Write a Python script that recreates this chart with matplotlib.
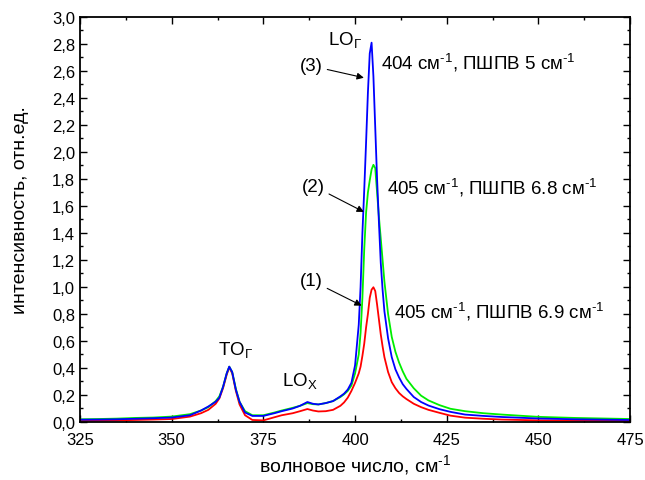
import matplotlib
matplotlib.use("Agg")
import matplotlib.pyplot as plt
from matplotlib.ticker import MultipleLocator, FuncFormatter

plt.rcParams['font.family'] = ['Liberation Sans', 'DejaVu Sans']
plt.rcParams['mathtext.fontset'] = 'custom'
plt.rcParams['mathtext.rm'] = 'Liberation Sans'
plt.rcParams['mathtext.it'] = 'Liberation Sans'

wavenumber = [325, 330, 335, 340, 345, 350, 355, 358, 360, 362,
              363, 364, 365, 365.7, 366.5, 367.5, 368.5, 370, 372, 375,
              378, 380, 383, 385, 387, 388.5, 390, 392, 394, 396,
              397, 398, 399, 400, 401, 401.5, 402, 402.5, 403, 403.5,
              404, 404.5, 405, 405.5, 406, 406.5, 407, 407.5, 408, 409,
              410, 411, 412, 413, 414, 416, 418, 420, 423, 426,
              430, 435, 440, 450, 460, 475]

spectrum_1 = [0.008, 0.01, 0.012, 0.015, 0.018, 0.022, 0.04, 0.065, 0.09, 0.135,
              0.175, 0.25, 0.35, 0.405, 0.36, 0.23, 0.13, 0.05, 0.015, 0.012,
              0.035, 0.05, 0.065, 0.08, 0.096, 0.085, 0.078, 0.08, 0.09, 0.12,
              0.145, 0.18, 0.23, 0.29, 0.36, 0.41, 0.49, 0.58, 0.70, 0.80,
              0.92, 0.98, 0.998, 0.97, 0.87, 0.76, 0.65, 0.56, 0.48, 0.37,
              0.295, 0.25, 0.215, 0.19, 0.17, 0.135, 0.11, 0.09, 0.068, 0.047,
              0.032, 0.024, 0.018, 0.012, 0.01, 0.008]

spectrum_2 = [0.02, 0.022, 0.025, 0.03, 0.033, 0.04, 0.058, 0.085, 0.11, 0.155,
              0.19, 0.26, 0.36, 0.41, 0.37, 0.245, 0.15, 0.08, 0.05, 0.05,
              0.07, 0.085, 0.105, 0.12, 0.14, 0.132, 0.13, 0.14, 0.155, 0.185,
              0.205, 0.23, 0.27, 0.36, 0.50, 0.66, 0.92, 1.28, 1.55, 1.70,
              1.79, 1.87, 1.905, 1.88, 1.70, 1.52, 1.36, 1.20, 1.04, 0.80,
              0.63, 0.52, 0.44, 0.375, 0.32, 0.25, 0.195, 0.16, 0.125, 0.098,
              0.08, 0.065, 0.055, 0.038, 0.03, 0.022]

spectrum_3 = [0.017, 0.018, 0.02, 0.024, 0.028, 0.033, 0.05, 0.085, 0.115, 0.15,
              0.18, 0.26, 0.36, 0.41, 0.37, 0.24, 0.15, 0.07, 0.045, 0.045,
              0.065, 0.08, 0.1, 0.12, 0.148, 0.135, 0.13, 0.14, 0.155, 0.19,
              0.21, 0.24, 0.29, 0.42, 0.72, 1.0, 1.40, 1.72, 2.07, 2.44,
              2.73, 2.81, 2.56, 2.18, 1.80, 1.48, 1.18, 0.98, 0.82, 0.62,
              0.48, 0.39, 0.33, 0.28, 0.245, 0.185, 0.148, 0.122, 0.095, 0.075,
              0.055, 0.045, 0.037, 0.026, 0.02, 0.015]

fig = plt.figure(figsize=(6.45, 4.81), dpi=100)
ax = fig.add_axes([0.124, 0.1206, 0.853, 0.842])

ax.plot(wavenumber, spectrum_1, color='#ff0000', lw=1.3)
ax.plot(wavenumber, spectrum_2, color='#00ee00', lw=1.3)
ax.plot(wavenumber, spectrum_3, color='#0000ff', lw=1.3)

ax.set_xlim(325, 475)
ax.set_ylim(0, 3.0)
ax.xaxis.set_major_locator(MultipleLocator(25))
ax.xaxis.set_minor_locator(MultipleLocator(12.5))
ax.yaxis.set_major_locator(MultipleLocator(0.2))
ax.yaxis.set_minor_locator(MultipleLocator(0.1))
ax.yaxis.set_major_formatter(FuncFormatter(lambda v, p: f"{v:.1f}".replace('.', ',')))
ax.tick_params(which='both', direction='in', top=True, right=True, labelsize=12, width=1.0)
ax.tick_params(which='major', length=5)
ax.tick_params(which='minor', length=2.5)
ax.tick_params(axis='x', pad=7)
for s in ax.spines.values():
    s.set_linewidth(1.3)

sup = '$^{\\text{-1}}$'
ax.set_xlabel('волновое число, см' + sup, fontsize=14, labelpad=4)
ax.set_ylabel('интенсивность, отн.ед.', fontsize=14, labelpad=12)
ax.yaxis.set_label_coords(-0.092, 0.525)

fs = 13.5
ax.text(397.3, 2.84, 'LO$_{\\mathrm{Γ}}$', fontsize=fs, ha='center', va='center')
ax.text(407.0, 2.67, '404 см' + sup + ', ПШПВ 5 см' + sup, fontsize=fs, ha='left', va='center')
ax.text(408.8, 1.74, '405 см' + sup + ', ПШПВ 6.8 см' + sup, fontsize=fs, ha='left', va='center')
ax.text(410.7, 0.82, '405 см' + sup + ', ПШПВ 6.9 см' + sup, fontsize=fs, ha='left', va='center')
ax.text(367.3, 0.54, 'TO$_{\\mathrm{Γ}}$', fontsize=fs, ha='center', va='center')
ax.text(384.9, 0.31, 'LO$_{\\mathrm{X}}$', fontsize=fs, ha='center', va='center')

arrow = dict(arrowstyle='-|>', color='k', lw=0.8, mutation_scale=10, shrinkA=1, shrinkB=0)
ax.annotate('(3)', xy=(402.4, 2.55), xytext=(391.3, 2.637), fontsize=fs,
            ha='right', va='center', arrowprops=arrow)
ax.annotate('(2)', xy=(402.4, 1.556), xytext=(391.8, 1.748), fontsize=fs,
            ha='right', va='center', arrowprops=arrow)
ax.annotate('(1)', xy=(401.8, 0.862), xytext=(391.3, 1.047), fontsize=fs,
            ha='right', va='center', arrowprops=arrow)

fig.savefig('out.png', dpi=100)
